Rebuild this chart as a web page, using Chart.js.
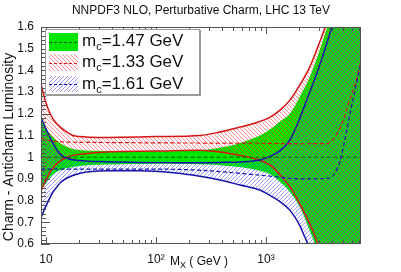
<!DOCTYPE html>
<html>
<head>
<meta charset="utf-8">
<script src="https://cdn.jsdelivr.net/npm/chart.js@4.4.0/dist/chart.umd.min.js"></script>
<style>
html, body { margin: 0; padding: 0; background: #fff; }
</style>
</head>
<body>
<canvas id="grafica" width="401" height="272"></canvas>
<script>
// masas (GeV) y bandas de luminosidad
const masasVerde = [9, 10, 11, 12, 13.4, 15, 17.6, 20, 25, 50, 100, 200, 300, 450, 600, 880, 1100, 1340, 1650, 2030, 2500, 2870, 3150, 3600, 4000, 7500];
const verdeSup = [1.17, 1.135, 1.105, 1.085, 1.065, 1.05, 1.038, 1.033, 1.03, 1.028, 1.027, 1.03, 1.036, 1.05, 1.068, 1.10, 1.13, 1.165, 1.20, 1.28, 1.37, 1.45, 1.51, 1.60, 1.68, 2.0];
const verdeInf = [0.85, 0.88, 0.91, 0.926, 0.94, 0.948, 0.955, 0.959, 0.964, 0.968, 0.97, 0.969, 0.966, 0.96, 0.954, 0.937, 0.92, 0.886, 0.84, 0.77, 0.66, 0.58, 0.5, 0.4, 0.35, 0.2];
const masasVerdeCentral = [9, 7500];
const verdeCentral = [1.0, 1.0];

const masasRojo = [9, 9.5, 10, 10.9, 12, 13.4, 15.5, 17.6, 20, 25, 36, 50, 100, 250, 380, 580, 825, 1090, 1340, 1650, 2030, 2500, 2950, 3450, 4000, 7500];
const rojoSup = [1.34, 1.29, 1.25, 1.20, 1.165, 1.14, 1.115, 1.10, 1.095, 1.092, 1.091, 1.092, 1.095, 1.10, 1.116, 1.139, 1.16, 1.185, 1.217, 1.263, 1.333, 1.416, 1.508, 1.60, 1.72, 2.1];
const rojoInf = [0.845, 0.872, 0.895, 0.932, 0.96, 0.982, 1.0, 1.008, 1.013, 1.018, 1.024, 1.026, 1.028, 1.032, 1.024, 1.008, 0.99, 0.963, 0.918, 0.863, 0.784, 0.692, 0.60, 0.48, 0.38, 0.2];
const masasRojoCentral = [9, 10, 12, 15, 30, 100, 1000, 2000, 3600, 4000, 4500, 5000, 5600, 6200, 7000, 7500];
const rojoCentral = [1.09, 1.08, 1.074, 1.07, 1.068, 1.066, 1.064, 1.062, 1.063, 1.078, 1.115, 1.165, 1.245, 1.31, 1.405, 1.46];

const masasAzul = [9, 9.5, 10, 10.9, 11.6, 12.5, 13.4, 15.5, 20, 36, 71, 143, 250, 380, 580, 880, 1100, 1340, 1650, 2030, 2250, 2500, 3100, 3800, 4200, 7500];
const azulSup = [1.185, 1.155, 1.13, 1.09, 1.065, 1.035, 1.015, 0.995, 0.985, 0.979, 0.976, 0.975, 0.975, 0.976, 0.978, 0.987, 1.005, 1.03, 1.08, 1.18, 1.24, 1.30, 1.43, 1.57, 1.65, 2.2];
const azulInf = [0.72, 0.75, 0.775, 0.815, 0.84, 0.862, 0.881, 0.904, 0.925, 0.937, 0.937, 0.928, 0.912, 0.895, 0.872, 0.849, 0.822, 0.795, 0.755, 0.685, 0.632, 0.58, 0.45, 0.35, 0.3, 0.2];
const masasAzulCentral = [9, 100, 250, 1080, 2030, 3800, 4200, 4700, 5200, 5800, 6400, 7200, 7500];
const azulCentral = [0.945, 0.945, 0.94, 0.913, 0.90, 0.903, 0.925, 0.98, 1.08, 1.2, 1.30, 1.42, 1.46];

const etiquetasX = { 10: "10", 100: "10\u00b2", 1000: "10\u00b3" };
const leyenda = ["1.47", "1.33", "1.61"];

const VERDE = "rgb(0,230,0)";
const VERDE_OSCURO = "rgb(0,90,0)";
const ROJO = "rgb(215,20,20)";
const AZUL = "rgb(20,20,170)";
const FUENTE = "'Liberation Sans', Arial, sans-serif";

const canvas = document.getElementById("grafica");
const ctxPrincipal = canvas.getContext("2d");

// rayado de pixeles sin suavizado, como el de ROOT
function rayado(color, paso, sentido) {
    const c = document.createElement("canvas");
    c.width = paso;
    c.height = paso;
    const g = c.getContext("2d");
    g.fillStyle = color;
    for (let i = 0; i < paso; i++) {
        g.fillRect(i, sentido === "\\" ? i : paso - 1 - i, 1, 1);
    }
    return ctxPrincipal.createPattern(c, "repeat");
}

const rayadoRojo = rayado("rgba(240,40,40,0.5)", 4, "\\");
const rayadoAzul = rayado("rgba(60,60,255,0.5)", 4, "/");

const serie = (ms, vs) => ms.map((m, i) => ({ x: m, y: vs[i] }));

const decoraciones = {
    id: "decoraciones",
    afterDatasetsDraw(chart) {
        const ctx = chart.ctx;
        const a = chart.chartArea;
        const sx = chart.scales.x;
        const sy = chart.scales.y;
        ctx.save();

        // marcas de los ejes
        ctx.strokeStyle = "#555";
        ctx.lineWidth = 1;
        ctx.beginPath();
        for (const dec of [1, 10, 100, 1000]) {
            for (let k = 1; k <= 9; k++) {
                const m = dec * k;
                if (m < sx.min || m > sx.max) continue;
                const px = Math.round(sx.getPixelForValue(m)) + 0.5;
                const largo = k === 1 ? 7 : 4;
                ctx.moveTo(px, a.bottom); ctx.lineTo(px, a.bottom - largo);
                ctx.moveTo(px, a.top); ctx.lineTo(px, a.top + largo);
            }
        }
        for (let i = 0; i <= 50; i++) {
            const v = 0.6 + i * 0.02;
            const py = Math.round(sy.getPixelForValue(v)) + 0.5;
            const largo = i % 5 === 0 ? 9 : 5;
            ctx.moveTo(a.left, py); ctx.lineTo(a.left + largo, py);
        }
        ctx.stroke();
        ctx.strokeRect(a.left + 0.5, a.top + 0.5, a.width - 1, a.height - 1);

        // leyenda
        ctx.fillStyle = "#fff";
        ctx.fillRect(45, 29, 155, 66);
        ctx.strokeStyle = "#999";
        ctx.strokeRect(45.5, 29.5, 154, 65);
        ctx.lineWidth = 2;
        ctx.beginPath();
        ctx.moveTo(46, 95); ctx.lineTo(201, 95);
        ctx.moveTo(200, 30); ctx.lineTo(200, 95);
        ctx.stroke();

        const cajas = [
            { y: 33, h: 18, relleno: VERDE, linea: VERDE_OSCURO },
            { y: 54, h: 17, relleno: rayadoRojo, linea: ROJO },
            { y: 76, h: 16, relleno: rayadoAzul, linea: AZUL }
        ];
        const bases = [46, 67, 89];
        cajas.forEach((c, i) => {
            ctx.fillStyle = c.relleno;
            ctx.fillRect(49, c.y, 29, c.h);
            ctx.strokeStyle = c.linea;
            ctx.lineWidth = 1;
            ctx.setLineDash([3, 2]);
            ctx.beginPath();
            const ym = Math.round(c.y + c.h / 2) + 0.5;
            ctx.moveTo(49, ym); ctx.lineTo(78, ym);
            ctx.stroke();
            ctx.setLineDash([]);

            ctx.fillStyle = "#111";
            ctx.textAlign = "left";
            ctx.textBaseline = "alphabetic";
            ctx.font = "17px " + FUENTE;
            let x = 82;
            ctx.fillText("m", x, bases[i]);
            x += ctx.measureText("m").width;
            ctx.font = "11px " + FUENTE;
            ctx.fillText("c", x, bases[i] + 4);
            x += ctx.measureText("c").width;
            ctx.font = "17px " + FUENTE;
            ctx.fillText("=" + leyenda[i] + " GeV", x, bases[i]);
        });

        // titulos
        ctx.fillStyle = "#111";
        ctx.font = "12px " + FUENTE;
        ctx.textAlign = "center";
        ctx.fillText("NNPDF3 NLO, Perturbative Charm, LHC 13 TeV", 201, 14);

        ctx.save();
        ctx.translate(13, 147);
        ctx.rotate(-Math.PI / 2);
        ctx.font = "14px " + FUENTE;
        ctx.fillText("Charm - Anticharm Luminosity", 0, 0);
        ctx.restore();

        ctx.textAlign = "left";
        let xt = 170;
        ctx.font = "12px " + FUENTE;
        ctx.fillText("M", xt, 265);
        xt += ctx.measureText("M").width;
        ctx.font = "9px " + FUENTE;
        ctx.fillText("X", xt, 268);
        xt += ctx.measureText("X").width;
        ctx.font = "12px " + FUENTE;
        ctx.fillText(" ( GeV )", xt, 265);

        ctx.restore();
    }
};

const banda = (data, extra) => Object.assign({
    data: data,
    borderWidth: 0,
    pointRadius: 0,
    fill: false
}, extra);

new Chart(ctxPrincipal, {
    type: "line",
    data: {
        datasets: [
            banda(serie(masasVerde, verdeSup), { fill: "+1", backgroundColor: VERDE, order: 50 }),
            banda(serie(masasVerde, verdeInf), { order: 49 }),
            banda(serie(masasRojo, rojoSup), { fill: "+1", backgroundColor: rayadoRojo, borderColor: ROJO, borderWidth: 1.5, order: 40 }),
            banda(serie(masasRojo, rojoInf), { borderColor: ROJO, borderWidth: 1.5, order: 39 }),
            banda(serie(masasAzul, azulSup), { fill: "+1", backgroundColor: rayadoAzul, borderColor: AZUL, borderWidth: 1.5, order: 30 }),
            banda(serie(masasAzul, azulInf), { borderColor: AZUL, borderWidth: 1.5, order: 29 }),
            banda(serie(masasVerdeCentral, verdeCentral), { borderColor: VERDE_OSCURO, borderWidth: 1, borderDash: [4, 2.5], order: 3 }),
            banda(serie(masasRojoCentral, rojoCentral), { borderColor: ROJO, borderWidth: 1.2, borderDash: [4, 2.5], order: 2 }),
            banda(serie(masasAzulCentral, azulCentral), { borderColor: AZUL, borderWidth: 1.2, borderDash: [4, 2.5], order: 1 })
        ]
    },
    options: {
        responsive: false,
        animation: false,
        layout: { padding: { left: 0, right: 40, top: 27, bottom: 0 } },
        elements: { line: { cubicInterpolationMode: "monotone" }, point: { radius: 0 } },
        plugins: {
            legend: { display: false },
            tooltip: { enabled: false },
            filler: { drawTime: "beforeDatasetsDraw" }
        },
        scales: {
            x: {
                type: "logarithmic",
                min: 9,
                max: 7300,
                grid: { display: false, drawTicks: false },
                border: { display: false },
                afterBuildTicks: (s) => { s.ticks = [10, 100, 1000].map((v) => ({ value: v })); },
                afterFit: (s) => { s.height = 28; },
                ticks: {
                    autoSkip: false,
                    maxRotation: 0,
                    padding: 8,
                    color: "#111",
                    font: { family: FUENTE, size: 12 },
                    callback: (v) => etiquetasX[v] || ""
                }
            },
            y: {
                min: 0.6,
                max: 1.6,
                grid: { display: false, drawTicks: false },
                border: { display: false },
                afterFit: (s) => { s.width = 41; },
                ticks: {
                    stepSize: 0.1,
                    padding: 7,
                    color: "#111",
                    font: { family: FUENTE, size: 12 },
                    callback: (v) => String(Math.round(v * 10) / 10)
                }
            }
        }
    },
    plugins: [decoraciones]
});
</script>
</body>
</html>
